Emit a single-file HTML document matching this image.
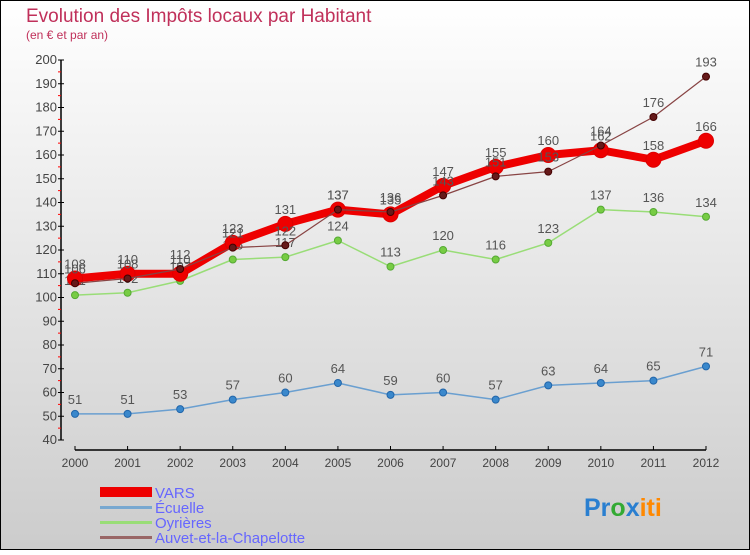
<!DOCTYPE html>
<html><head><meta charset="utf-8"><style>
body{margin:0}
svg text{font-family:"Liberation Sans",sans-serif}
</style></head><body>
<svg width="750" height="550" xmlns="http://www.w3.org/2000/svg">
<defs><linearGradient id="bg" x1="0" y1="0" x2="0" y2="1"><stop offset="0" stop-color="#ffffff"/><stop offset="1" stop-color="#cccccc"/></linearGradient></defs>
<rect x="0.5" y="0.5" width="749" height="549" fill="url(#bg)" stroke="#000"/>
<text x="26" y="22" font-size="19" fill="#c0305a">Evolution des Impôts locaux par Habitant</text>
<text x="26" y="39" font-size="12" fill="#c0305a">(en € et par an)</text>
<g id="axes"></g>
<g id="series"></g>
<g id="legend">
<rect x="100" y="487" width="52" height="10" fill="#ee0000"/>
<text x="155" y="498" font-size="15" fill="#6666ff">VARS</text>
<rect x="100" y="506" width="52" height="3" fill="#78a8d0"/>
<text x="155" y="513" font-size="15" fill="#6666ff">Écuelle</text>
<rect x="100" y="521" width="52" height="3" fill="#99dd77"/>
<text x="155" y="528" font-size="15" fill="#6666ff">Oyrières</text>
<rect x="100" y="536" width="52" height="3" fill="#996666"/>
<text x="155" y="543" font-size="15" fill="#6666ff">Auvet-et-la-Chapelotte</text>
</g>
<text x="584" y="516" font-size="25" font-weight="bold"><tspan fill="#2a7fd0">Pr</tspan><tspan fill="#33aa33">o</tspan><tspan fill="#2a7fd0">x</tspan><tspan fill="#ff8800">iti</tspan></text>
</svg>
<script>
const years=[2000,2001,2002,2003,2004,2005,2006,2007,2008,2009,2010,2011,2012];
const yTicks=[40,50,60,70,80,90,100,110,120,130,140,150,160,170,180,190,200];
const vars=[108,110,110,123,131,137,135,147,155,160,162,158,166];
const ecuelle=[51,51,53,57,60,64,59,60,57,63,64,65,71];
const oyrieres=[101,102,107,116,117,124,113,120,116,123,137,136,134];
const auvet=[106,108,112,121,122,137,136,143,151,153,164,176,193];
const NS="http://www.w3.org/2000/svg";
const X=i=>75+i*(706-75)/12;
const Y=v=>440-(v-40)*(380/160);
function mk(t,a,p){const e=document.createElementNS(NS,t);for(const k in a)e.setAttribute(k,a[k]);p.appendChild(e);return e;}
const ax=document.getElementById('axes');
let l=mk('line',{x1:61,y1:60,x2:61,y2:440,stroke:'#000','stroke-width':1.5},ax);


yTicks.forEach((v,i)=>{
 mk('line',{x1:58,y1:Y(v),x2:64,y2:Y(v),stroke:'#000'},ax);
 if(i<yTicks.length-1)mk('line',{x1:58,y1:Y(v+5),x2:61,y2:Y(v+5),stroke:'#ff0000'},ax);
 const t=mk('text',{x:57,y:Y(v)+4,'font-size':13,fill:'#444','text-anchor':'end'},ax);
 t.textContent=v;
 
 
});
l=mk('line',{x1:X(0),y1:450,x2:X(12),y2:450,stroke:'#000','stroke-width':1.5},ax);


years.forEach((y,i)=>{
 mk('line',{x1:X(i),y1:446,x2:X(i),y2:450,stroke:'#000'},ax);
 const t=mk('text',{x:X(i),y:467,'font-size':12,fill:'#444','text-anchor':'middle'},ax);
 t.textContent=y;
 
 
});
const sg=document.getElementById('series');
function draw(data,name,color,w,r,pc,stroke){
 const g=mk('g',{},sg);
 
 
 mk('polyline',{points:data.map((v,i)=>X(i)+','+Y(v)).join(' '),fill:'none',stroke:color,'stroke-width':w,'stroke-linejoin':'round'},g);
 data.forEach((v,i)=>{
  const c=mk('circle',{cx:X(i),cy:Y(v),r:r,fill:pc,stroke:stroke,'stroke-width':1},g);
  
  
  const t=mk('text',{x:X(i),y:Y(v)-10,'font-size':13,fill:'#555','text-anchor':'middle'},g);
  t.textContent=v;
  
  
 });
}
draw(ecuelle,'ecuelle','#6a9fd0',1.5,3.5,'#3a88cc','#2266aa');
draw(oyrieres,'oyrieres','#99dd77',1.5,3.5,'#77cc44','#55aa33');
draw(vars,'vars','#ee0000',8,7.5,'#ee0000','#dd0000');
draw(auvet,'auvet','#884444',1.2,3.5,'#661a1a','#440000');
</script>
</body></html>
